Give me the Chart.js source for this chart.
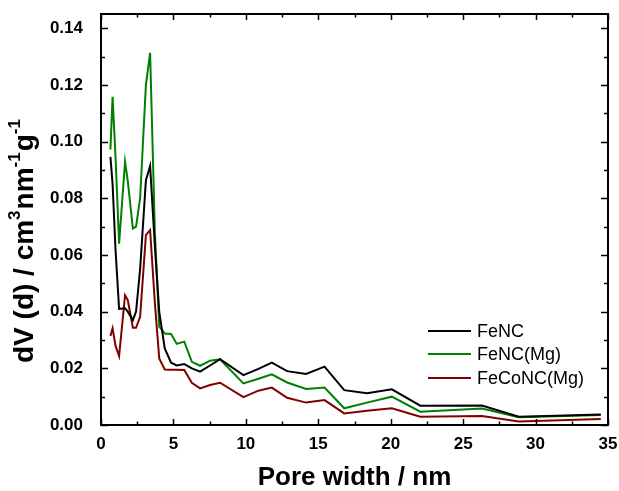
<!DOCTYPE html>
<html>
<head>
<meta charset="utf-8">
<script src="https://cdn.jsdelivr.net/npm/chart.js@4.4.0/dist/chart.umd.min.js"></script>
<style>
  body { margin: 0; background: #fff; }
  #wrap { width: 619px; height: 491px; position: relative; }
</style>
</head>
<body>
<div id="wrap"><canvas id="psd"></canvas></div>
<script>
// pore width (nm), shared by all three curves
const poreWidth = [0.65, 0.8, 1.0, 1.25, 1.66, 1.85, 2.2, 2.42, 2.7, 3.1, 3.39, 3.72, 4.02, 4.4, 4.84, 5.23, 5.75, 6.27, 6.84, 7.53, 8.22, 9.83, 10.87, 11.79, 12.85, 14.16, 15.43, 16.79, 18.36, 20.08, 22.04, 26.3, 28.84, 34.5];

const feNC = [0.0946, 0.085, 0.062, 0.041, 0.0412, 0.040, 0.037, 0.040, 0.055, 0.0864, 0.0914, 0.063, 0.040, 0.027, 0.022, 0.021, 0.0215, 0.020, 0.0188, 0.021, 0.0232, 0.0176, 0.0198, 0.022, 0.019, 0.018, 0.0206, 0.0123, 0.0112, 0.0126, 0.0068, 0.0069, 0.0029, 0.0037];

const feNCMg = [0.0972, 0.1158, 0.095, 0.064, 0.0929, 0.086, 0.0693, 0.070, 0.080, 0.120, 0.1313, 0.068, 0.0347, 0.0323, 0.0321, 0.0286, 0.0294, 0.0223, 0.0209, 0.0227, 0.0232, 0.0147, 0.0163, 0.0179, 0.015, 0.0127, 0.0132, 0.0059, 0.0079, 0.010, 0.0047, 0.0058, 0.0027, 0.0035];

const feCoNCMg = [0.0314, 0.0341, 0.028, 0.0243, 0.0458, 0.0441, 0.0343, 0.0343, 0.0382, 0.067, 0.0688, 0.043, 0.0235, 0.0196, 0.0195, 0.0195, 0.0194, 0.0149, 0.0129, 0.0141, 0.0149, 0.0098, 0.0121, 0.0132, 0.0096, 0.0079, 0.0088, 0.0041, 0.005, 0.0059, 0.0029, 0.0032, 0.0012, 0.0021];

const seriesNames = ['FeNC', 'FeNC(Mg)', 'FeCoNC(Mg)'];
const seriesColors = ['#000000', '#008000', '#800000'];

const xTicks = [0, 5, 10, 15, 20, 25, 30, 35];
const yTicks = [0, 0.02, 0.04, 0.06, 0.08, 0.10, 0.12, 0.14];

const FONT = "'Liberation Sans', Arial, sans-serif";

function toPoints(ys) {
  return poreWidth.map((x, i) => ({ x: x, y: ys[i] }));
}

// frame with inward ticks on all four sides, y title with superscripts, legend
const decor = {
  id: 'decor',
  afterDatasetsDraw(chart) {
    const ctx = chart.ctx;
    const a = chart.chartArea;
    const xs = chart.scales.x, ys = chart.scales.y;
    ctx.save();
    ctx.strokeStyle = '#000';
    ctx.lineWidth = 1.5;
    ctx.beginPath();
    for (let v = 0; v <= 35.001; v += 2.5) {
      const px = Math.round(xs.getPixelForValue(v)) + 0.5;
      const len = (Math.abs(v % 5) < 0.01) ? 6 : 3.5;
      ctx.moveTo(px, a.bottom); ctx.lineTo(px, a.bottom - len);
      ctx.moveTo(px, a.top); ctx.lineTo(px, a.top + len);
    }
    for (let i = 0; i <= 14; i++) {
      const py = Math.round(ys.getPixelForValue(i * 0.01)) + 0.5;
      const len = (i % 2 === 0) ? 7 : 4;
      ctx.moveTo(a.left, py); ctx.lineTo(a.left + len, py);
      ctx.moveTo(a.right, py); ctx.lineTo(a.right - len, py);
    }
    ctx.stroke();
    ctx.lineWidth = 2;
    ctx.strokeRect(a.left, a.top, a.right - a.left, a.bottom - a.top);

    // legend
    ctx.font = '18px ' + FONT;
    ctx.textBaseline = 'middle';
    ctx.fillStyle = '#000';
    const rows = [331, 354, 378];
    chart.data.datasets.forEach((ds, i) => {
      ctx.strokeStyle = ds.borderColor;
      ctx.lineWidth = 2;
      ctx.beginPath();
      ctx.moveTo(428, rows[i]); ctx.lineTo(471, rows[i]);
      ctx.stroke();
      ctx.fillText(ds.label, 477, rows[i] + 1);
    });

    // y title: dV (d) / cm3 nm-1 g-1
    const parts = [
      ['dV (d) / cm', false], ['3', true], ['nm', false], ['-1', true], ['g', false], ['-1', true]
    ];
    ctx.translate(33, 363);
    ctx.rotate(-Math.PI / 2);
    ctx.textBaseline = 'alphabetic';
    let x = 0;
    parts.forEach(p => {
      ctx.font = (p[1] ? 'bold 17px ' : 'bold 28px ') + FONT;
      ctx.fillText(p[0], x, p[1] ? -13 : 0);
      x += ctx.measureText(p[0]).width + (p[1] ? 1 : 0);
    });
    ctx.restore();
  }
};

new Chart(document.getElementById('psd'), {
  type: 'line',
  data: {
    datasets: [feNC, feNCMg, feCoNCMg].map((ys, i) => ({
      label: seriesNames[i],
      data: toPoints(ys),
      borderColor: seriesColors[i],
      backgroundColor: seriesColors[i],
      borderWidth: 2,
      pointRadius: 0,
      tension: 0,
      fill: false
    }))
  },
  options: {
    responsive: true,
    maintainAspectRatio: false,
    animation: false,
    layout: { padding: { top: 14, right: 11, left: 0, bottom: 0 } },
    plugins: { legend: { display: false }, tooltip: { enabled: false } },
    scales: {
      x: {
        type: 'linear',
        min: 0,
        max: 35,
        afterBuildTicks: s => { s.ticks = xTicks.map(v => ({ value: v })); },
        afterFit: s => { s.height = 66; s.paddingLeft = 0; s.paddingRight = 0; },
        grid: { display: false, drawTicks: false },
        border: { display: false },
        ticks: { color: '#000', padding: 9, maxRotation: 0, font: { family: FONT, size: 17, weight: 'bold' } },
        title: {
          display: true,
          text: 'Pore width / nm',
          color: '#000',
          padding: { top: 0, bottom: 0 },
          font: { family: FONT, size: 26, weight: 'bold', lineHeight: 1 }
        }
      },
      y: {
        min: 0,
        max: 0.145,
        afterBuildTicks: s => { s.ticks = yTicks.map(v => ({ value: v })); },
        afterFit: s => { s.width = 101; s.paddingTop = 0; s.paddingBottom = 0; },
        grid: { display: false, drawTicks: false },
        border: { display: false },
        ticks: {
          color: '#000',
          padding: 18,
          font: { family: FONT, size: 17, weight: 'bold' },
          callback: v => Number(v).toFixed(2)
        }
      }
    }
  },
  plugins: [decor]
});
</script>
</body>
</html>
